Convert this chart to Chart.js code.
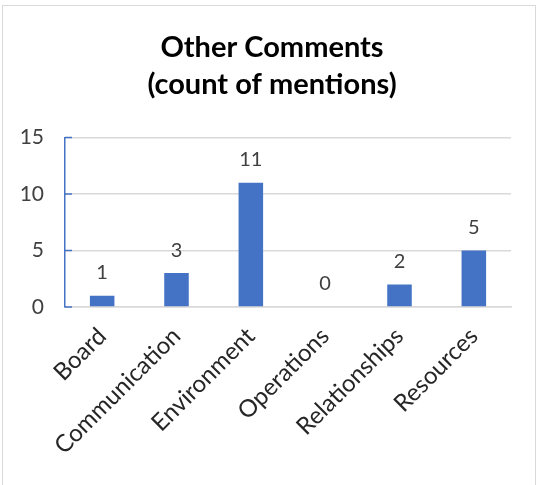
<!DOCTYPE html>
<html>
<head>
<meta charset="utf-8">
<script src="https://cdn.jsdelivr.net/npm/chart.js@4"></script>
<style>
  body { margin: 0; background: #fff; }
  #frame {
    position: absolute; left: 2px; top: 5px; width: 534px; height: 490px;
    border: 1px solid #d9d9d9; box-sizing: border-box;
  }
  #wrap { position: absolute; left: 0; top: 0; width: 540px; height: 485px; }
</style>
</head>
<body>
<div id="frame"></div>
<div id="wrap"><canvas id="chart"></canvas></div>
<script>
// Chart data
const categories = ['Board', 'Communication', 'Environment', 'Operations', 'Relationships', 'Resources'];
const mentions = [1, 3, 11, 0, 2, 5];
const yTicks = [0, 5, 10, 15];

const FONT = 'Lato, "Open Sans", sans-serif';
const BLUE = '#4472C4';

// Value labels above each bar
const barLabels = {
    id: 'barLabels',
    afterDatasetsDraw(chart) {
        const ctx = chart.ctx;
        const meta = chart.getDatasetMeta(0);
        ctx.save();
        ctx.font = '20px ' + FONT;
        ctx.fillStyle = '#404040';
        ctx.textAlign = 'center';
        ctx.textBaseline = 'bottom';
        meta.data.forEach((bar, i) => {
            ctx.fillText(String(mentions[i]), bar.x, bar.y - 13);
        });
        ctx.restore();
    }
};

// Short blue tick marks pointing into the plot
const innerTicks = {
    id: 'innerTicks',
    afterDraw(chart) {
        const ctx = chart.ctx;
        const y = chart.scales.y;
        ctx.save();
        ctx.strokeStyle = BLUE;
        ctx.lineWidth = 1.5;
        y.ticks.forEach(t => {
            const py = y.getPixelForValue(t.value);
            ctx.beginPath();
            ctx.moveTo(y.right, py);
            ctx.lineTo(y.right + 7, py);
            ctx.stroke();
        });
        ctx.restore();
    }
};

// Centre the title on the whole frame rather than the padded box
const titleShift = {
    id: 'titleShift',
    afterLayout(chart) {
        if (chart.titleBlock) chart.titleBlock.left = 33;
    }
};

new Chart(document.getElementById('chart'), {
    type: 'bar',
    data: {
        labels: categories,
        datasets: [{
            data: mentions,
            backgroundColor: BLUE,
            categoryPercentage: 1,
            barPercentage: 0.33
        }]
    },
    options: {
        responsive: true,
        maintainAspectRatio: false,
        animation: false,
        layout: { padding: { top: 30, right: 29, left: 0, bottom: 0 } },
        plugins: {
            legend: { display: false },
            tooltip: { enabled: false },
            title: {
                display: true,
                text: ['Other Comments', '(count of mentions)'],
                color: '#000',
                font: { family: FONT, size: 29, weight: 'bold', lineHeight: 1.25 },
                padding: { top: 0, bottom: 35 }
            }
        },
        scales: {
            x: {
                grid: { display: false, drawTicks: false },
                border: { color: '#d9d9d9', width: 1.5 },
                ticks: {
                    color: '#262626',
                    font: { family: FONT, size: 24 },
                    minRotation: 45,
                    maxRotation: 45,
                    padding: 15
                },
                afterFit(scale) { scale.height = 178; }
            },
            y: {
                min: 0,
                max: 15,
                afterBuildTicks(scale) {
                    scale.ticks = yTicks.map(v => ({ value: v }));
                },
                grid: { color: '#d9d9d9', lineWidth: 1.5, drawTicks: false },
                border: { color: BLUE, width: 1.5 },
                ticks: {
                    color: '#404040',
                    font: { family: FONT, size: 21 },
                    padding: 21
                },
                afterFit(scale) { scale.width = 65; }
            }
        }
    },
    plugins: [barLabels, innerTicks, titleShift]
});
</script>
</body>
</html>
